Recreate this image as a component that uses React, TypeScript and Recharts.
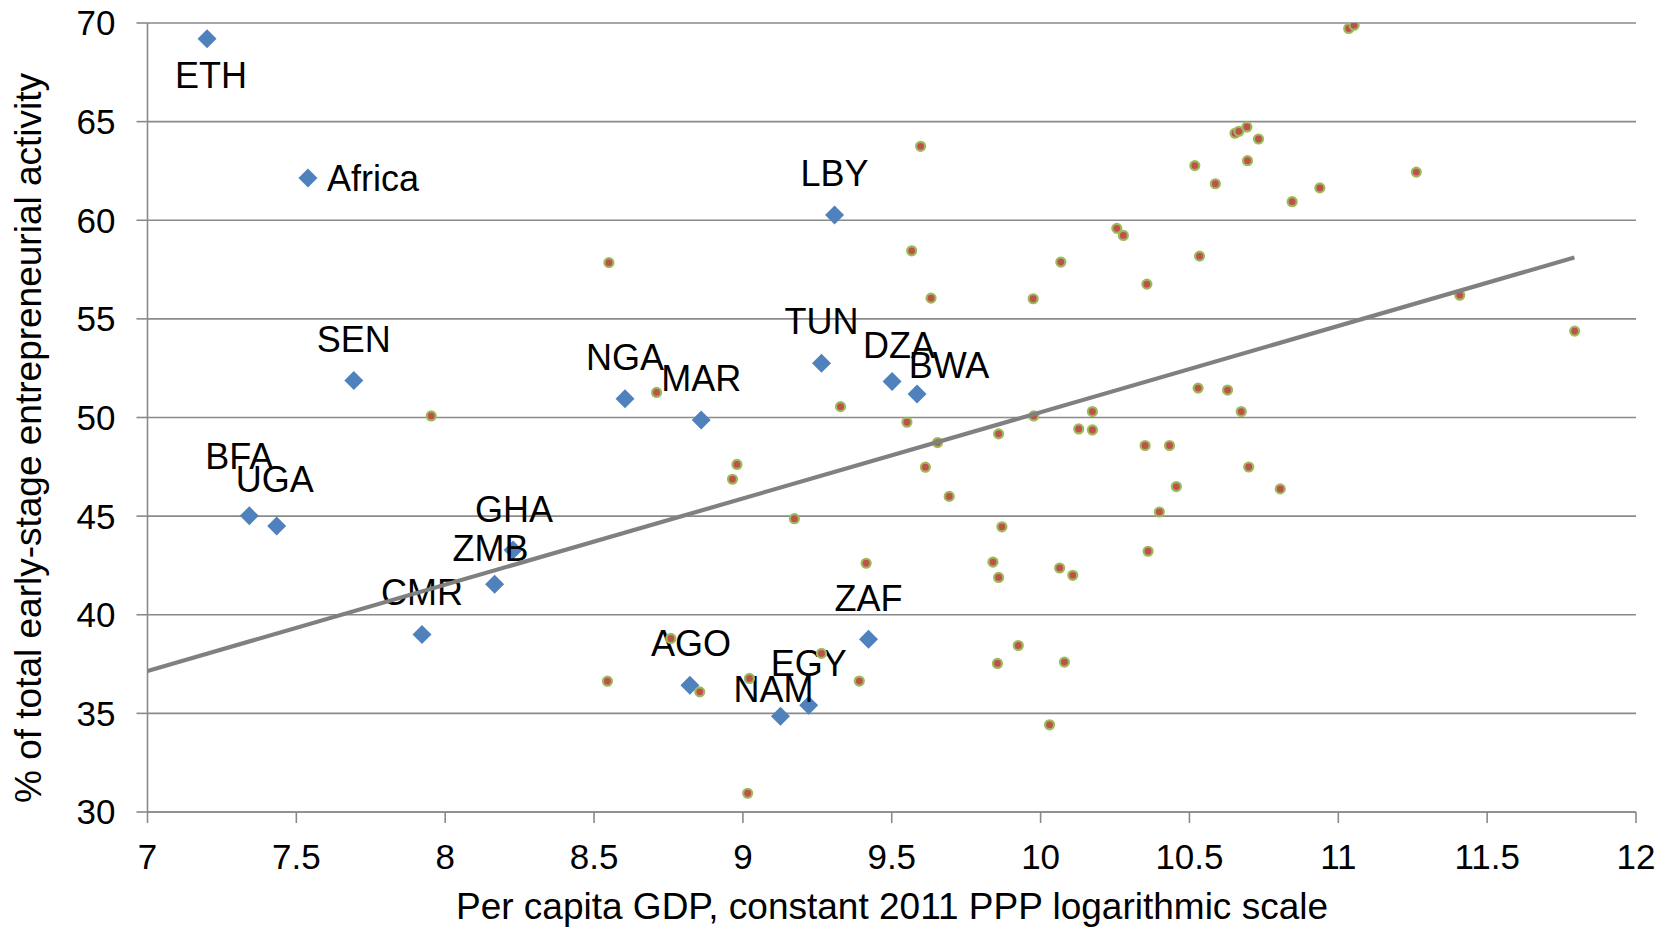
import React from 'react';
import { ScatterChart, Scatter, XAxis, YAxis, CartesianGrid } from 'recharts';

const africaNames = ['ETH', 'Africa', 'LBY', 'SEN', 'NGA', 'MAR', 'TUN', 'DZA', 'BWA', 'BFA', 'UGA', 'GHA', 'ZMB', 'CMR', 'ZAF', 'AGO', 'EGY', 'NAM'];
const africaX = [7.2, 7.539, 9.308, 7.693, 8.604, 8.86, 9.264, 9.501, 9.585, 7.342, 7.434, 8.228, 8.166, 7.922, 9.422, 8.822, 9.221, 9.126];
const africaY = [69.2, 62.14, 60.27, 51.87, 50.95, 49.87, 52.75, 51.82, 51.19, 45.02, 44.5, 43.28, 41.54, 39.0, 38.76, 36.43, 35.41, 34.85];

const worldX = [8.55, 7.953, 8.71, 8.98, 8.965, 9.173, 8.545, 8.758, 8.855, 9.022, 9.264, 9.391, 9.016, 9.855, 9.925, 10.08, 10.03, 9.328, 9.551, 9.654, 9.859, 9.977, 10.174, 10.128, 10.174, 9.613, 9.693, 9.87, 9.414, 9.84, 9.859, 10.064, 10.108, 9.597, 9.567, 10.068, 9.632, 9.975, 11.035, 11.053, 10.653, 10.666, 10.693, 10.732, 10.695, 10.518, 10.587, 10.845, 10.938, 11.262, 10.256, 10.278, 10.534, 10.357, 11.408, 11.794, 10.529, 10.628, 10.674, 10.351, 10.433, 10.699, 10.456, 10.805, 10.399, 10.361];
const worldY = [57.85, 50.08, 51.27, 47.62, 46.87, 44.87, 36.63, 38.8, 36.09, 36.77, 38.04, 36.64, 30.95, 37.53, 38.44, 37.6, 34.42, 50.55, 49.76, 48.73, 49.17, 50.08, 50.3, 49.42, 49.37, 47.48, 46.0, 44.46, 42.61, 42.67, 41.89, 42.37, 42.0, 63.75, 58.45, 57.88, 56.05, 56.02, 69.72, 69.89, 64.41, 64.51, 64.73, 64.12, 63.02, 62.77, 61.85, 60.94, 61.64, 62.44, 59.59, 59.23, 58.18, 56.76, 56.2, 54.38, 51.49, 51.39, 50.3, 48.58, 48.58, 47.49, 46.5, 46.38, 45.21, 43.22];

const trendX = [7, 11.793];
const trendY = [37.15, 58.11];

const xTicks = [7, 7.5, 8, 8.5, 9, 9.5, 10, 10.5, 11, 11.5, 12];
const yTicks = [30, 35, 40, 45, 50, 55, 60, 65, 70];

const xTitle = 'Per capita GDP, constant 2011 PPP logarithmic scale';
const yTitle = '% of total early-stage entrepreneurial activity';

// label placement (pixel offsets of the label's cap-center from its marker)
const labelOffsets: Record<string, { dx: number; dy: number; anchor?: string }> = {
  ETH: { dx: 4, dy: 36 },
  Africa: { dx: 19, dy: 0, anchor: 'start' },
  LBY: { dx: 0, dy: -42 },
  SEN: { dx: 0, dy: -42 },
  NGA: { dx: 0, dy: -42 },
  MAR: { dx: 0, dy: -42 },
  TUN: { dx: 0, dy: -42 },
  DZA: { dx: 7, dy: -36 },
  BWA: { dx: 32, dy: -29 },
  BFA: { dx: -10, dy: -60 },
  UGA: { dx: -2, dy: -47 },
  GHA: { dx: 1, dy: -41 },
  ZMB: { dx: -4, dy: -36 },
  CMR: { dx: 0, dy: -42 },
  ZAF: { dx: 0, dy: -41 },
  AGO: { dx: 1, dy: -42 },
  EGY: { dx: 0, dy: -42 },
  NAM: { dx: -7, dy: -27 },
};

const africaData = africaNames.map((name, i) => ({ name, x: africaX[i], y: africaY[i] }));
const worldData = worldX.map((x, i) => ({ x, y: worldY[i] }));
const trendData = trendX.map((x, i) => ({ x, y: trendY[i] }));

const FONT = '"Liberation Sans", Arial, Helvetica, sans-serif';
const GRID = '#8a8a8a';

const Diamond = (props: any) => {
  const { cx, cy } = props;
  if (cx == null || cy == null) return null;
  const r = 9.5;
  return (
    <polygon
      points={`${cx},${cy - r} ${cx + r},${cy} ${cx},${cy + r} ${cx - r},${cy}`}
      fill="#4F81BD"
    />
  );
};

const AfricaLabel = (props: any) => {
  const { cx, cy, payload } = props;
  if (cx == null || cy == null || !payload) return null;
  const o = labelOffsets[payload.name] || { dx: 0, dy: -42 };
  const fs = 36;
  return (
    <text
      x={cx + o.dx}
      y={cy + o.dy + fs * 0.358}
      textAnchor={(o.anchor as any) || 'middle'}
      fontFamily={FONT}
      fontSize={fs}
      fill="#000"
    >
      {payload.name}
    </text>
  );
};

const WorldDot = (props: any) => {
  const { cx, cy } = props;
  if (cx == null || cy == null) return null;
  return <circle cx={cx} cy={cy} r={4.5} fill="#C0504D" stroke="#9BBB59" strokeWidth={2.2} />;
};

const NoShape = () => null;

export default function App() {
  return (
    <div style={{ position: 'absolute', left: 0, top: 0, width: 1673, height: 927, background: '#fff' }}>
      <ScatterChart width={1673} height={927} margin={{ top: 23, right: 37, bottom: 0, left: 0 }}>
        <CartesianGrid vertical={false} stroke={GRID} strokeWidth={1.6} />
        <XAxis
          type="number"
          dataKey="x"
          domain={[7, 12]}
          ticks={xTicks}
          height={115}
          tickSize={11}
          tickMargin={21}
          axisLine={{ stroke: GRID, strokeWidth: 1.6 }}
          tickLine={{ stroke: GRID, strokeWidth: 1.6 }}
          tick={{ fill: '#000', fontSize: 35, fontFamily: FONT }}
          interval={0}
          allowDataOverflow
        />
        <YAxis
          type="number"
          dataKey="y"
          domain={[30, 70]}
          ticks={yTicks}
          width={147.5}
          tickSize={11}
          tickMargin={21}
          axisLine={{ stroke: GRID, strokeWidth: 1.6 }}
          tickLine={{ stroke: GRID, strokeWidth: 1.6 }}
          tick={{ fill: '#000', fontSize: 35, fontFamily: FONT }}
          interval={0}
          allowDataOverflow
        />
        <Scatter data={africaData} shape={<Diamond />} isAnimationActive={false} />
        <Scatter data={africaData} shape={<AfricaLabel />} isAnimationActive={false} />
        <Scatter data={worldData} shape={<WorldDot />} isAnimationActive={false} />
        <Scatter
          data={trendData}
          shape={<NoShape />}
          line={{ stroke: '#808080', strokeWidth: 4.2 }}
          isAnimationActive={false}
        />
      </ScatterChart>
      <svg width={1673} height={927} style={{ position: 'absolute', left: 0, top: 0, pointerEvents: 'none' }}>
        <text
          x={892}
          y={919}
          textAnchor="middle"
          fontFamily={FONT}
          fontSize={37}
          fill="#000"
        >
          {xTitle}
        </text>
        <text
          x={0}
          y={0}
          transform="translate(41, 438) rotate(-90)"
          textAnchor="middle"
          fontFamily={FONT}
          fontSize={37}
          fill="#000"
        >
          {yTitle}
        </text>
      </svg>
    </div>
  );
}
